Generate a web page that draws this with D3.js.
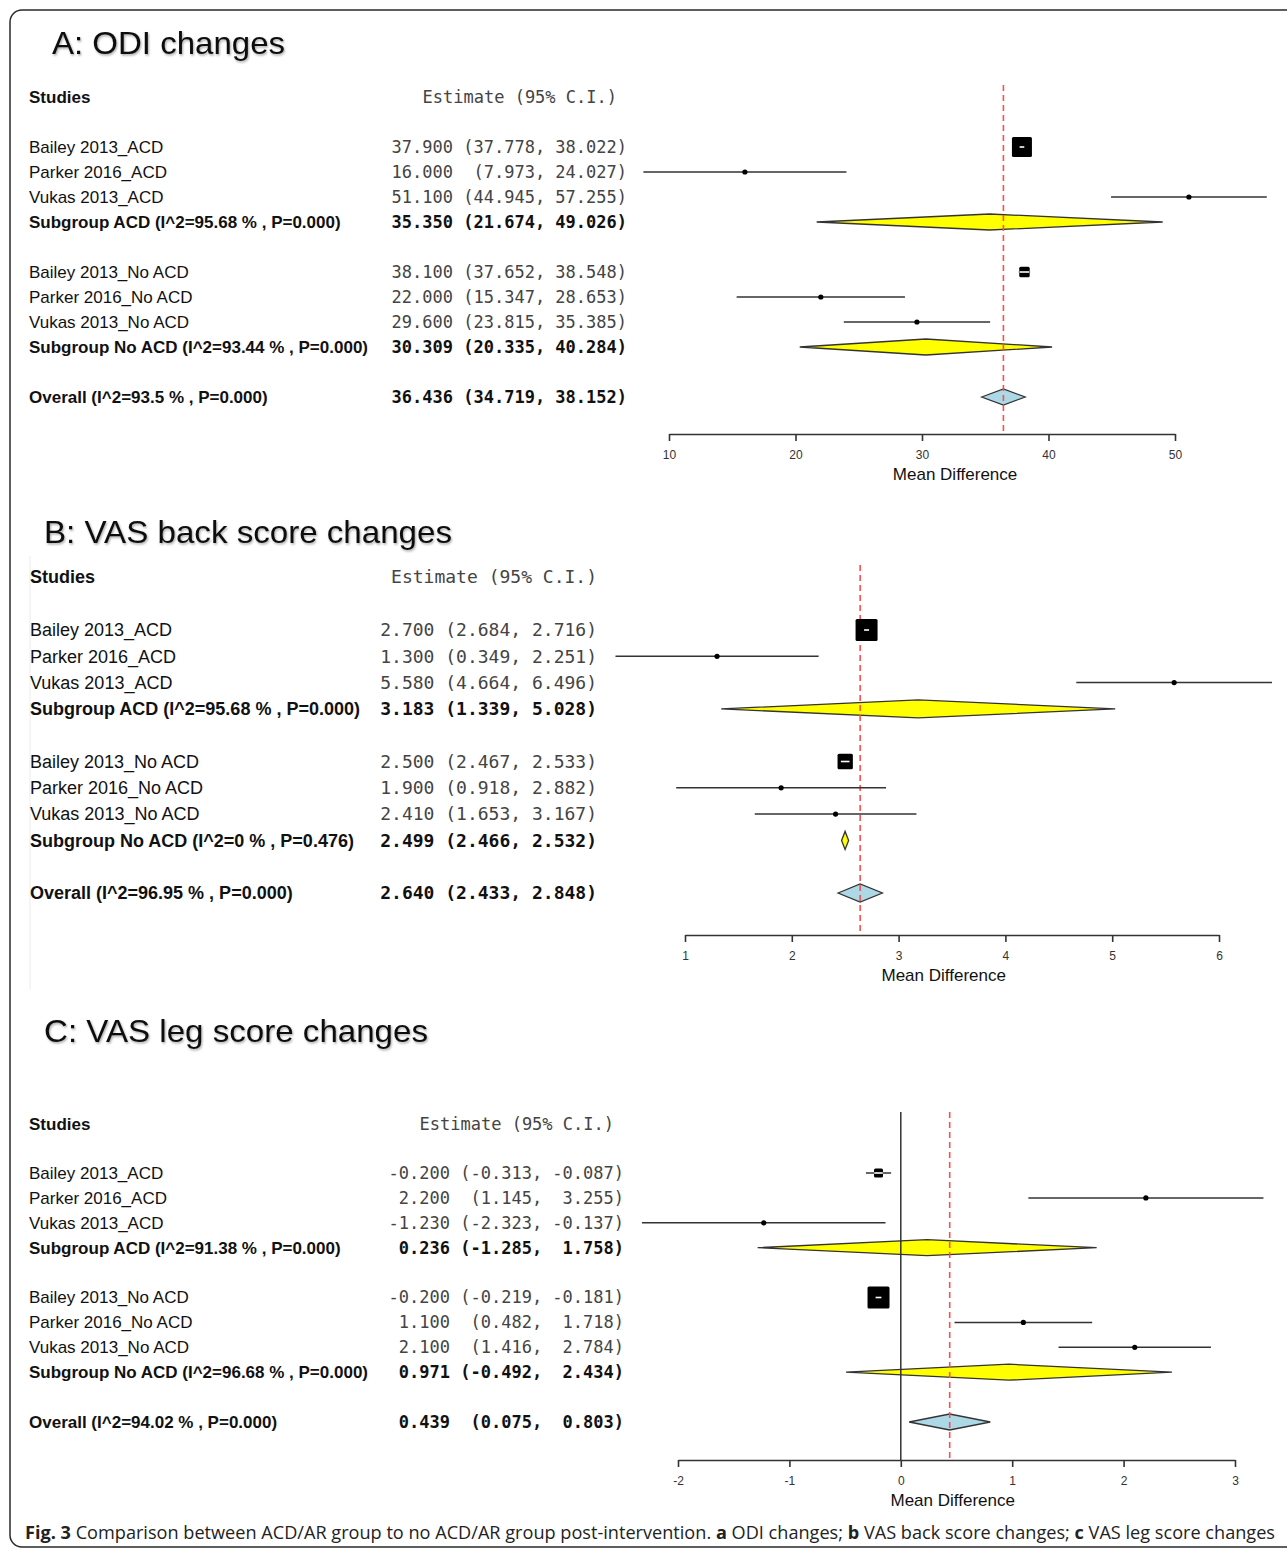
<!DOCTYPE html>
<html lang="en">
<head>
<meta charset="UTF-8"/>
<title>Fig. 3 forest plots</title>
<script src="https://d3js.org/d3.v7.min.js"></script>
<style>
  body { margin: 0; background: #fff; }
  svg { display: block; }
  .mono { font-family: "DejaVu Sans Mono", monospace; white-space: pre; }
  .sans { font-family: "Liberation Sans", Arial, sans-serif; }
</style>
</head>
<body>
<script>
var w = 1287, h = 1550;

// rows, same order in each panel
var studies = ["Bailey 2013_ACD", "Parker 2016_ACD", "Vukas 2013_ACD", "Subgroup ACD",
               "Bailey 2013_No ACD", "Parker 2016_No ACD", "Vukas 2013_No ACD", "Subgroup No ACD",
               "Overall"];
var rowKind = ["s", "s", "s", "g", "s", "s", "s", "g", "o"];
var rowIndex = [0, 1, 2, 3, 5, 6, 7, 8, 10];

// A: ODI changes
var odiEst = [37.900, 16.000, 51.100, 35.350, 38.100, 22.000, 29.600, 30.309, 36.436];
var odiLo  = [37.778, 7.973, 44.945, 21.674, 37.652, 15.347, 23.815, 20.335, 34.719];
var odiHi  = [38.022, 24.027, 57.255, 49.026, 38.548, 28.653, 35.385, 40.284, 38.152];
var odiI2  = [95.68, 93.44, 93.5];
var odiP   = ["0.000", "0.000", "0.000"];
var odiTicks = [10, 20, 30, 40, 50];

// B: VAS back
var backEst = [2.700, 1.300, 5.580, 3.183, 2.500, 1.900, 2.410, 2.499, 2.640];
var backLo  = [2.684, 0.349, 4.664, 1.339, 2.467, 0.918, 1.653, 2.466, 2.433];
var backHi  = [2.716, 2.251, 6.496, 5.028, 2.533, 2.882, 3.167, 2.532, 2.848];
var backI2  = [95.68, 0, 96.95];
var backP   = ["0.000", "0.476", "0.000"];
var backTicks = [1, 2, 3, 4, 5, 6];

// C: VAS leg
var legEst = [-0.200, 2.200, -1.230, 0.236, -0.200, 1.100, 2.100, 0.971, 0.439];
var legLo  = [-0.313, 1.145, -2.323, -1.285, -0.219, 0.482, 1.416, -0.492, 0.075];
var legHi  = [-0.087, 3.255, -0.137, 1.758, -0.181, 1.718, 2.784, 2.434, 0.803];
var legI2  = [91.38, 96.68, 94.02];
var legP   = ["0.000", "0.000", "0.000"];
var legTicks = [-2, -1, 0, 1, 2, 3];

var caption = "Comparison between ACD/AR group to no ACD/AR group post-intervention.";

var panels = [
  {title: "A: ODI changes", titleX: 52, titleY: 54, titleLen: 233,
   est: odiEst, lo: odiLo, hi: odiHi, i2: odiI2, p: odiP, ticks: odiTicks,
   range: [669, 1175], headY: 97, row0: 147, row10: 397, axisY: 434,
   labelX: 29, fs: 17, monoFs: 17, estX: 627, estHeadX: 617, boxMax: 20, dia: 8},
  {title: "B: VAS back score changes", titleX: 44, titleY: 543, titleLen: 408,
   est: backEst, lo: backLo, hi: backHi, i2: backI2, p: backP, ticks: backTicks,
   range: [685, 1219], headY: 577, row0: 630, row10: 893, axisY: 935,
   labelX: 30, fs: 18, monoFs: 18, estX: 597, estHeadX: 597, boxMax: 22, dia: 9},
  {title: "C: VAS leg score changes", titleX: 44, titleY: 1042, titleLen: 384,
   est: legEst, lo: legLo, hi: legHi, i2: legI2, p: legP, ticks: legTicks,
   range: [678, 1235], headY: 1124, row0: 1173, row10: 1422, axisY: 1460,
   labelX: 29, fs: 17, monoFs: 17, estX: 624, estHeadX: 614, boxMax: 22, dia: 8}
];

var svg = d3.select("body").append("svg")
  .attr("width", w)
  .attr("height", h);

var defs = svg.append("defs");
var f = defs.append("filter").attr("id", "shadow")
  .attr("x", "-5%").attr("y", "-20%").attr("width", "110%").attr("height", "140%");
f.append("feDropShadow").attr("dx", 1).attr("dy", 1.5).attr("stdDeviation", 1.2)
  .attr("flood-color", "#000").attr("flood-opacity", 0.35);

// outer frame
svg.append("rect")
  .attr("x", 10).attr("y", 10)
  .attr("width", 1300).attr("height", 1537)
  .attr("rx", 12)
  .attr("fill", "none")
  .attr("stroke", "#2a2a2a")
  .attr("stroke-width", 1.5);

// faint frame remnant in panel B
svg.append("line")
  .attr("x1", 30).attr("x2", 30).attr("y1", 556).attr("y2", 990)
  .attr("stroke", "#ececec").attr("stroke-width", 1);

function fix3(v) { return (+v).toFixed(3); }

panels.forEach(function (P) {
  var g = svg.append("g");

  var x = d3.scaleLinear()
    .domain(d3.extent(P.ticks))
    .range(P.range);
  var y = d3.scaleLinear()
    .domain([0, 10])
    .range([P.row0, P.row10]);

  // title
  g.append("text")
    .attr("class", "sans")
    .attr("x", P.titleX).attr("y", P.titleY)
    .attr("font-size", 32)
    .attr("textLength", P.titleLen)
    .attr("lengthAdjust", "spacingAndGlyphs")
    .attr("fill", "#111")
    .attr("filter", "url(#shadow)")
    .text(P.title);

  // headers
  g.append("text")
    .attr("class", "sans")
    .attr("x", P.labelX).attr("y", P.headY)
    .attr("dy", "0.35em")
    .attr("font-size", P.fs)
    .attr("font-weight", "bold")
    .attr("fill", "#111")
    .text("Studies");
  g.append("text")
    .attr("class", "mono")
    .attr("x", P.estHeadX).attr("y", P.headY)
    .attr("dy", "0.35em")
    .attr("text-anchor", "end")
    .attr("font-size", P.monoFs)
    .attr("fill", "#444")
    .text("Estimate (95% C.I.)");

  // build row table
  var k = 0;
  var rows = studies.map(function (s, i) {
    var label = s;
    if (rowKind[i] !== "s") {
      label = s + " (I^2=" + P.i2[k] + " % , P=" + P.p[k] + ")";
      k++;
    }
    return {label: label, kind: rowKind[i], idx: rowIndex[i],
            est: P.est[i], lo: P.lo[i], hi: P.hi[i]};
  });

  // estimate column padded like the R output
  var wEst = d3.max(rows, function (d) { return fix3(d.est).length; });
  var wLo = d3.max(rows, function (d) { return ("(" + fix3(d.lo) + ",").length; });
  var wHi = d3.max(rows, function (d) { return (fix3(d.hi) + ")").length; });
  rows.forEach(function (d) {
    d.txt = fix3(d.est).padStart(wEst) + " " +
            ("(" + fix3(d.lo) + ",").padStart(wLo) + " " +
            (fix3(d.hi) + ")").padStart(wHi);
  });

  g.selectAll("text.lab")
    .data(rows)
    .enter().append("text")
    .attr("class", "lab sans")
    .attr("x", P.labelX)
    .attr("y", function (d) { return y(d.idx); })
    .attr("dy", "0.35em")
    .attr("font-size", P.fs)
    .attr("font-weight", function (d) { return d.kind === "s" ? "normal" : "bold"; })
    .attr("fill", "#111")
    .text(function (d) { return d.label; });

  g.selectAll("text.est")
    .data(rows)
    .enter().append("text")
    .attr("class", "est mono")
    .attr("x", P.estX)
    .attr("y", function (d) { return y(d.idx); })
    .attr("dy", "0.35em")
    .attr("text-anchor", "end")
    .attr("font-size", P.monoFs)
    .attr("font-weight", function (d) { return d.kind === "s" ? "normal" : "bold"; })
    .attr("fill", function (d) { return d.kind === "s" ? "#444" : "#111"; })
    .text(function (d) { return d.txt; });

  var lineTop = P.headY - 12;

  // diamonds first, the reference lines run across them
  g.selectAll("path.dia")
    .data(rows.filter(function (d) { return d.kind !== "s"; }))
    .enter().append("path")
    .attr("class", "dia")
    .attr("d", function (d) {
      var cy = y(d.idx);
      return "M" + x(d.lo) + "," + cy +
             "L" + x(d.est) + "," + (cy - P.dia) +
             "L" + x(d.hi) + "," + cy +
             "L" + x(d.est) + "," + (cy + P.dia) + "Z";
    })
    .attr("fill", function (d) { return d.kind === "o" ? "#add8e6" : "#ffff00"; })
    .attr("stroke", "#333")
    .attr("stroke-width", 1.3)
    .attr("stroke-linejoin", "miter");

  // zero line
  var dom = x.domain();
  if (dom[0] < 0 && dom[1] > 0) {
    g.append("line")
      .attr("x1", x(0)).attr("x2", x(0))
      .attr("y1", lineTop).attr("y2", P.axisY)
      .attr("stroke", "#333").attr("stroke-width", 1.5);
  }

  // overall estimate reference line
  var overall = rows[rows.length - 1];
  g.append("line")
    .attr("x1", x(overall.est)).attr("x2", x(overall.est))
    .attr("y1", lineTop).attr("y2", P.axisY - 2)
    .attr("stroke", "#ff4d4d")
    .attr("stroke-width", 1.6)
    .attr("stroke-dasharray", "6,4");

  // study rows: CI line and box / dot
  var studyRows = rows.filter(function (d) { return d.kind === "s"; });
  var size = d3.scaleSqrt()
    .domain([0, d3.max(studyRows, function (d) { return 1 / (d.hi - d.lo); })])
    .range([0, P.boxMax]);

  studyRows.forEach(function (d) {
    var cy = y(d.idx), cx = x(d.est);
    var s = size(1 / (d.hi - d.lo));
    g.append("line")
      .attr("x1", x(d.lo)).attr("x2", x(d.hi))
      .attr("y1", cy).attr("y2", cy)
      .attr("stroke", "#333").attr("stroke-width", 1.5);
    if (s < 6) {
      g.append("circle")
        .attr("cx", cx).attr("cy", cy).attr("r", 2.6)
        .attr("fill", "#000");
    } else {
      g.append("rect")
        .attr("x", cx - s / 2).attr("y", cy - s / 2)
        .attr("width", s).attr("height", s)
        .attr("rx", 1.5)
        .attr("fill", "#000");
      var a = Math.max(x(d.lo), cx - s / 2 + 1), b = Math.min(x(d.hi), cx + s / 2 - 1);
      g.append("line")
        .attr("x1", a).attr("x2", b)
        .attr("y1", cy).attr("y2", cy)
        .attr("stroke", "#fff").attr("stroke-width", 1.6)
        .attr("stroke-linecap", "square");
    }
  });

  // axis
  var axis = d3.axisBottom(x)
    .tickValues(P.ticks)
    .tickSize(7)
    .tickSizeOuter(0)
    .tickPadding(9)
    .tickFormat(function (d) { return String(d); });
  var ax = g.append("g")
    .attr("transform", "translate(0," + P.axisY + ")")
    .call(axis);
  ax.select(".domain").attr("stroke", "#333").attr("stroke-width", 1.6);
  ax.selectAll(".tick line").attr("stroke", "#333").attr("stroke-width", 1.6);
  ax.selectAll(".tick text")
    .attr("font-family", "Liberation Sans, Arial, sans-serif")
    .attr("font-size", 12)
    .attr("fill", "#333");

  var lo = d3.min(rows, function (d) { return d.lo; });
  var hi = d3.max(rows, function (d) { return d.hi; });
  g.append("text")
    .attr("class", "sans")
    .attr("x", (x(lo) + x(hi)) / 2)
    .attr("y", P.axisY + 46)
    .attr("text-anchor", "middle")
    .attr("font-size", 17)
    .attr("fill", "#111")
    .text("Mean Difference");
});

// caption
var cap = svg.append("text")
  .attr("x", 25).attr("y", 1539)
  .attr("font-family", "Open Sans, sans-serif")
  .attr("font-size", 18)
  .attr("fill", "#222")
  .attr("textLength", 1250)
  .attr("lengthAdjust", "spacingAndGlyphs")
  .style("white-space", "pre");
cap.append("tspan").attr("font-weight", "bold").text("Fig. 3");
cap.append("tspan").text(" " + caption + " ");
cap.append("tspan").attr("font-weight", "bold").text("a");
cap.append("tspan").text(" ODI changes; ");
cap.append("tspan").attr("font-weight", "bold").text("b");
cap.append("tspan").text(" VAS back score changes; ");
cap.append("tspan").attr("font-weight", "bold").text("c");
cap.append("tspan").text(" VAS leg score changes");
</script>
</body>
</html>
